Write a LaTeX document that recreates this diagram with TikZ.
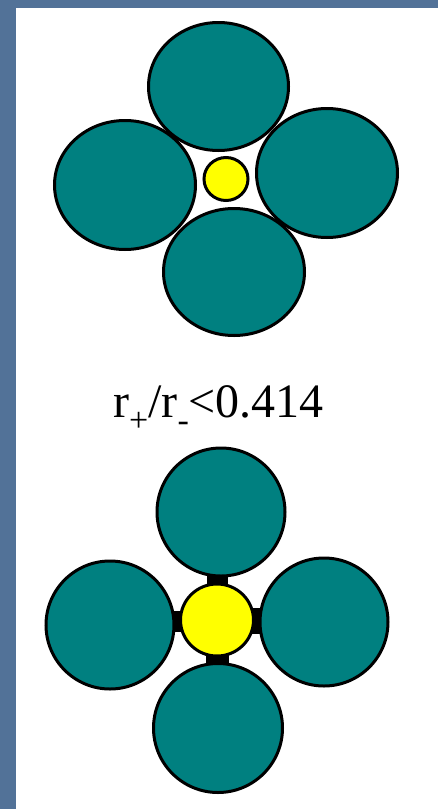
\documentclass[tikz,border=0pt]{standalone}
\usepackage{fontspec}
\setmainfont{Liberation Serif}
\usepackage{tikz}
\usetikzlibrary{shapes.geometric, calc, backgrounds}
\definecolor{slideblue}{RGB}{82,114,152}
\definecolor{anion}{RGB}{0,128,128}
\definecolor{cation}{RGB}{255,255,0}
\newcommand{\lowsub}[1]{\raisebox{-0.3em}{\fontsize{34}{34}\selectfont #1}}

\begin{document}
\begin{tikzpicture}[x=1pt, y=-1pt,
  big/.style={draw, line width=3pt, fill=anion, ellipse, inner sep=0pt},
  small/.style={draw, line width=3pt, fill=cation, ellipse, inner sep=0pt}]
\useasboundingbox (0,0) rectangle (438,809);
\begin{scope}[on background layer]
\fill[slideblue] (0,0) rectangle (438,809);
\fill[white] (16,8) rectangle (438,809);
\end{scope}

% r+/r- too small: the cation rattles in the hole
\node[big, minimum width=140pt, minimum height=128pt] (aTop) at (218.5,86.5) {};
\node[big, minimum width=141pt, minimum height=129pt] (aLeft) at (125,185) {};
\node[big, minimum width=141pt, minimum height=129pt] (aRight) at (327,173) {};
\node[big, minimum width=141pt, minimum height=127pt] (aBottom) at (234,272) {};
\node[small, minimum width=44pt, minimum height=43pt] (cat) at (226,179) {};

\node[font=\fontsize{48}{50}\selectfont, anchor=base, inner sep=0pt] (ratio) at (218.5,417) {r\lowsub{+}/r\lowsub{-}<0.414};

% cation touches all four anions
\node[big, minimum width=128pt, minimum height=128pt] (bTop) at (221,512) {};
\node[big, minimum width=128pt, minimum height=128pt] (bLeft) at (110,625) {};
\node[big, minimum width=128pt, minimum height=128pt] (bRight) at (324,622) {};
\node[big, minimum width=129pt, minimum height=129pt] (bBottom) at (218,728) {};
\node[small, minimum width=73pt, minimum height=72pt] (bcat) at (217,620) {};

\begin{scope}[on background layer]
\fill ($(bTop.south)+(-14,-6)$) rectangle ($(bcat.north)+(11,6)$);
\fill ($(bcat.south)+(-11,-6)$) rectangle ($(bBottom.north)+(11,6)$);
\fill ($(bLeft.east)+(-6,-14)$) rectangle ($(bcat.west)+(6,12)$);
\fill ($(bcat.east)+(-6,-12)$) rectangle ($(bRight.west)+(6,12)$);
\end{scope}
\end{tikzpicture}
\end{document}
